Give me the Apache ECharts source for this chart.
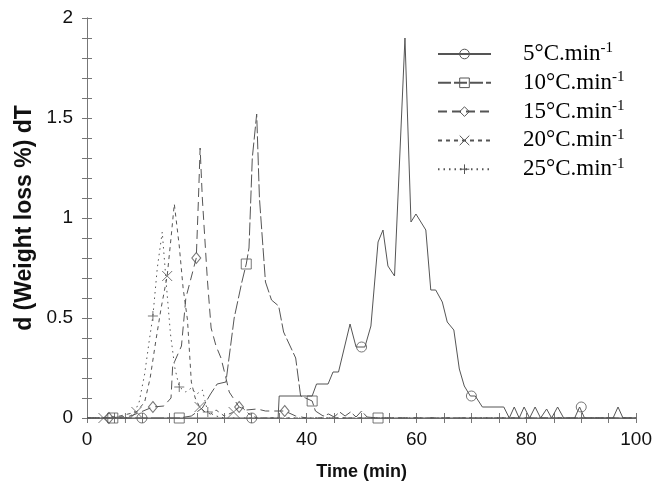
<!DOCTYPE html>
<html><head><meta charset="utf-8">
<script src="https://cdn.jsdelivr.net/npm/echarts@6/dist/echarts.min.js"></script>
<style>html,body{margin:0;padding:0;background:#fff}#c{width:655px;height:486px}</style>
</head><body><div id="c"></div>
<script>
// ---- data (time in min, d(weight loss %)/dT) ----
const names = ['5°C.min-1', '10°C.min-1', '15°C.min-1', '20°C.min-1', '25°C.min-1'];

const t5 = [0, 10, 20, 30, 34.8, 35, 40, 41, 41.8, 43.9, 44.8, 45.8, 47.9, 49, 50.6, 51.7, 53, 53.9, 54.8, 56, 57.9, 59, 59.9, 61.7, 62.6, 63.5, 64.7, 65.6, 66.8, 67.8, 68.7, 69.8, 70.7, 72, 75.9, 76.9, 77.8, 78.7, 79.6, 80.6, 81.6, 82.6, 83.7, 84.6, 85.7, 86.8, 88.8, 89.7, 90.6, 95.8, 96.7, 97.6, 100];
const v5 = [0, 0, 0, 0, 0, 0.11, 0.11, 0.11, 0.17, 0.17, 0.23, 0.23, 0.47, 0.355, 0.355, 0.46, 0.88, 0.94, 0.76, 0.71, 1.9, 0.98, 1.02, 0.94, 0.64, 0.64, 0.58, 0.48, 0.44, 0.245, 0.16, 0.11, 0.11, 0.055, 0.055, 0, 0.055, 0, 0.055, 0, 0.055, 0, 0.045, 0, 0.055, 0, 0, 0.055, 0, 0, 0.055, 0, 0];

const t10 = [0, 4.7, 10, 16.8, 19, 21, 22.5, 23.7, 25.3, 26.8, 28.2, 29, 29.5, 30.1, 30.9, 31.4, 32.5, 33.6, 34.9, 35.8, 38, 38.9, 39.8, 41, 41.6, 43, 44, 45, 46, 47, 48, 49, 50, 51, 53, 55, 100];
const v10 = [0, 0, 0, 0, 0.01, 0.05, 0.12, 0.17, 0.18, 0.5, 0.68, 0.77, 0.85, 1.3, 1.52, 1.1, 0.68, 0.59, 0.56, 0.43, 0.3, 0.11, 0.1, 0.085, 0.035, 0.01, 0.02, 0.005, 0.03, 0.01, 0.03, 0.005, 0.035, 0.005, 0, 0, 0];

const t15 = [0, 4, 8, 12, 14, 15.3, 15.6, 17.2, 18, 19.9, 20.3, 20.6, 21, 21.9, 22.6, 23.5, 24.4, 25.3, 25.9, 27.7, 29, 31, 32.5, 34, 36, 38, 40, 100];
const v15 = [0, 0, 0.01, 0.055, 0.06, 0.1, 0.26, 0.36, 0.6, 0.8, 1.1, 1.35, 1.1, 0.7, 0.45, 0.36, 0.3, 0.2, 0.13, 0.055, 0.04, 0.045, 0.035, 0.035, 0.035, 0.01, 0, 0];

const t20 = [0, 3, 6, 9, 10.5, 11.5, 12.5, 13.5, 14.6, 15.3, 15.9, 16.8, 17.5, 18.3, 19, 19.7, 20.5, 21.5, 22.5, 23.5, 25, 26.7, 28, 29.5, 31, 100];
const v20 = [0, 0, 0.01, 0.03, 0.08, 0.2, 0.38, 0.55, 0.71, 0.9, 1.07, 0.86, 0.65, 0.49, 0.18, 0.1, 0.055, 0.03, 0.02, 0.04, 0.01, 0.03, 0.06, 0.02, 0, 0];

const t25 = [0, 2, 7, 8.5, 9.5, 10.5, 11.3, 12, 12.8, 13.7, 14.5, 15.2, 16, 16.8, 18, 19, 20, 21, 22, 23.5, 25, 100];
const v25 = [0, 0, 0, 0.02, 0.08, 0.22, 0.38, 0.51, 0.75, 0.93, 0.65, 0.42, 0.25, 0.155, 0.13, 0.15, 0.12, 0.14, 0.03, 0.01, 0, 0];

// marker positions (plotted symbols along each curve)
const m5t = [10, 30, 50, 70, 90],        m5v = [0, 0, 0.355, 0.11, 0.055];
const m10t = [4.7, 16.8, 29, 41, 53],    m10v = [0, 0, 0.77, 0.085, 0];
const m15t = [4, 12, 19.9, 27.7, 36],    m15v = [0, 0.055, 0.8, 0.055, 0.035];
const m20t = [3, 9, 14.6, 20.5, 26.7],   m20v = [0, 0.03, 0.71, 0.055, 0.03];
const m25t = [7, 12, 16.8, 22],          m25v = [0, 0.51, 0.155, 0.03];

const xTicks = [0, 20, 40, 60, 80, 100];
const yTicks = [0, 0.5, 1, 1.5, 2];

// ---- chart ----
const pair = (a, b) => a.map((x, i) => [x, b[i]]);
const C = '#555';
const symX = 'path://M0,0L10,10M10,0L0,10';
const symP = 'path://M5,0L5,10M0,5L10,5';
const symbols = ['circle', 'rect', 'diamond', symX, symP];
const dashes = ['solid', [13, 3], [9, 5], [4, 4], [1.5, 4]];
const curves = [[t5, v5], [t10, v10], [t15, v15], [t20, v20], [t25, v25]];
const marks = [[m5t, m5v], [m10t, m10v], [m15t, m15v], [m20t, m20v], [m25t, m25v]];
const symSizes = [10, 10, [9, 11], 10, 10];

const series = [];
curves.forEach((c, i) => {
  series.push({
    name: names[i], type: 'line', data: pair(c[0], c[1]),
    showSymbol: false, symbol: symbols[i], symbolSize: symSizes[i],
    itemStyle: { color: 'transparent', borderColor: C, borderWidth: 1 },
    lineStyle: { color: C, width: 1, type: dashes[i] },
    emphasis: { disabled: true }, animation: false, z: 2
  });
});
marks.forEach((m, i) => {
  series.push({
    name: names[i] + ' markers', type: 'scatter', data: pair(m[0], m[1]),
    symbol: symbols[i], symbolSize: symSizes[i],
    itemStyle: { color: 'transparent', borderColor: C, borderWidth: 1 },
    emphasis: { disabled: true }, animation: false, z: 3
  });
});

const axisCommon = {
  axisLine: { lineStyle: { color: '#777', width: 1 } },
  axisTick: { inside: true, length: 5, lineStyle: { color: '#777' } },
  minorTick: { show: true, length: 5, lineStyle: { color: '#777' } },
  splitLine: { show: false }
};

const chart = echarts.init(document.getElementById('c'), null, { renderer: 'canvas' });
chart.setOption({
  backgroundColor: '#fff',
  animation: false,
  grid: { left: 87, right: 16, top: 18, bottom: 67 },
  xAxis: [
    Object.assign({}, axisCommon, {
      type: 'value', min: xTicks[0], max: xTicks[xTicks.length - 1], interval: 20,
      minorTick: Object.assign({}, axisCommon.minorTick, { splitNumber: 4 }),
      axisLabel: { color: '#111', fontFamily: 'Liberation Sans', fontSize: 19, margin: 12 },
      name: 'Time (min)', nameLocation: 'middle', nameGap: 45,
      nameTextStyle: { color: '#111', fontFamily: 'Liberation Sans', fontWeight: 'bold', fontSize: 18 }
    }),
    Object.assign({}, axisCommon, {
      type: 'value', position: 'top', min: xTicks[0], max: xTicks[xTicks.length - 1], interval: 20,
      minorTick: Object.assign({}, axisCommon.minorTick, { splitNumber: 4 }),
      axisLabel: { show: false }
    })
  ],
  yAxis: [
    Object.assign({}, axisCommon, {
      type: 'value', min: yTicks[0], max: yTicks[yTicks.length - 1], interval: 0.5,
      minorTick: Object.assign({}, axisCommon.minorTick, { splitNumber: 5 }),
      axisLabel: { color: '#111', fontFamily: 'Liberation Sans', fontSize: 19, margin: 14 },
      name: 'd (Weight loss %) dT', nameLocation: 'middle', nameGap: 45,
      nameTextStyle: { color: '#111', fontFamily: 'Liberation Sans', fontWeight: 'bold', fontSize: 23 }
    }),
    Object.assign({}, axisCommon, {
      type: 'value', position: 'right', min: yTicks[0], max: yTicks[yTicks.length - 1], interval: 0.5,
      minorTick: Object.assign({}, axisCommon.minorTick, { splitNumber: 5 }),
      axisLabel: { show: false }
    })
  ],
  legend: {
    data: names, orient: 'vertical', left: 437, top: 41, padding: 0,
    itemWidth: 53, itemHeight: 12, itemGap: 4.3,
    itemStyle: { borderWidth: 1 },
    formatter: n => '{m|' + n.slice(0, -2) + '}{s|' + n.slice(-2) + '}',
    textStyle: {
      rich: {
        m: { fontFamily: 'Liberation Serif', fontSize: 23, color: '#000', lineHeight: 26, padding: [0, 0, 0, 27] },
        s: { fontFamily: 'Liberation Serif', fontSize: 15, color: '#000', lineHeight: 20, verticalAlign: 'top' }
      }
    },
    selectedMode: false
  },
  series: series
});
</script>
</body></html>
